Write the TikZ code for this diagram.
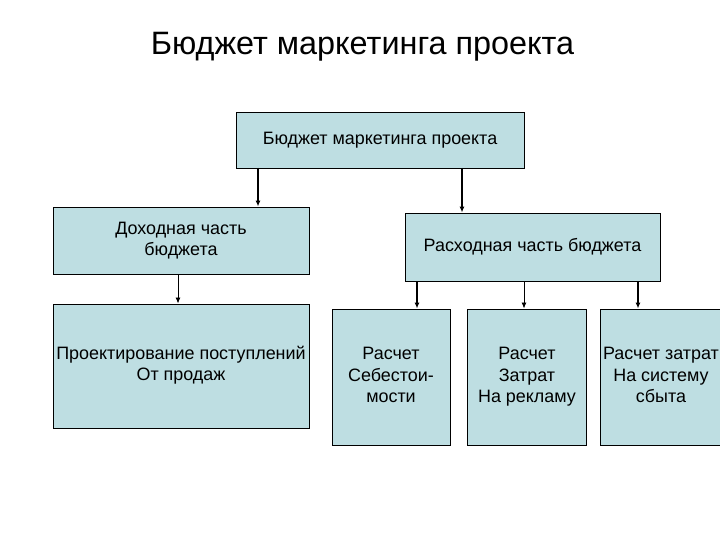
\documentclass[tikz,border=0pt]{standalone}
\usepackage{fontspec}
\setmainfont{Liberation Sans}
\usetikzlibrary{arrows.meta}
\definecolor{boxfill}{RGB}{190,222,226}
\tikzset{
  blk/.style={draw=black, line width=0.9bp, fill=boxfill, inner sep=0pt, align=center, font=\fontsize{18}{21.5}\selectfont},
  thickarr/.style={-{Latex[length=6bp,width=5bp]}, line width=1.8bp},
  thinarr/.style={-{Latex[length=6bp,width=5bp]}, line width=0.9bp},
}
\begin{document}
\begin{tikzpicture}[x=1bp,y=-1bp]
\useasboundingbox[fill=white] (0,0) rectangle (720,540);
\node[font=\fontsize{32.5}{38}\selectfont] (title) at (362.5,47) {Бюджет маркетинга проекта};
\node[blk, minimum width=288bp, minimum height=56bp] (top) at (380,140) {\strut Бюджет маркетинга проекта};
\node[blk, minimum width=256bp, minimum height=67bp] (inc) at (181,240.5) {\strut Доходная часть\\\strut бюджета};
\node[blk, minimum width=255bp, minimum height=68bp] (exp) at (532.5,247) {\strut Расходная часть бюджета};
\node[blk, minimum width=256bp, minimum height=124bp] (proj) at (181,366) {\strut Проектирование поступлений\\\strut От продаж};
\node[blk, minimum width=118bp, minimum height=136bp] (c1) at (391,377) {\strut Расчет\\\strut Себестои-\\\strut мости};
\node[blk, minimum width=119bp, minimum height=136bp] (c2) at (527,377) {\strut Расчет\\\strut Затрат\\\strut На рекламу};
\node[blk, minimum width=122bp, minimum height=136bp] (c3) at (661,377) {\strut Расчет затрат\\\strut На систему\\\strut сбыта};
\coordinate (a1) at (258,168);
\coordinate (a2) at (462,168);
\draw[thickarr] (a1) -- (a1 |- inc.north);
\draw[thickarr] (a2) -- (a2 |- exp.north);
\coordinate (b1) at (178,274);
\draw[thinarr] (b1) -- (b1 |- proj.north);
\coordinate (e1) at (417,281);
\coordinate (e2) at (524,281);
\coordinate (e3) at (638,281);
\draw[thickarr] (e1) -- (e1 |- c1.north);
\draw[thinarr] (e2) -- (e2 |- c2.north);
\draw[thickarr] (e3) -- (e3 |- c3.north);
\end{tikzpicture}
\end{document}
